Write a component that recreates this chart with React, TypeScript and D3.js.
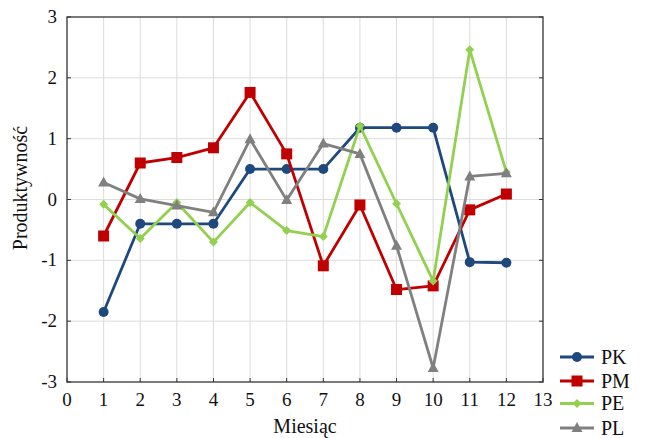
import React from "react";
import * as d3 from "d3";

const months = [1, 2, 3, 4, 5, 6, 7, 8, 9, 10, 11, 12];
const PK = [-1.85, -0.4, -0.4, -0.4, 0.5, 0.5, 0.5, 1.18, 1.18, 1.18, -1.03, -1.04];
const PM = [-0.6, 0.6, 0.69, 0.85, 1.76, 0.75, -1.09, -0.09, -1.48, -1.42, -0.17, 0.09];
const PE = [-0.08, -0.64, -0.05, -0.7, -0.05, -0.51, -0.61, 1.21, -0.07, -1.34, 2.46, 0.45];
const PL = [0.28, 0.01, -0.1, -0.21, 0.99, -0.01, 0.92, 0.75, -0.76, -2.77, 0.38, 0.43];
const xTicks = d3.range(0, 14);
const yTicks = [-3, -2, -1, 0, 1, 2, 3];

const seriesNames = ["PK", "PM", "PE", "PL"];
const seriesValues = [PK, PM, PE, PL];
const seriesColors = ["#1F497D", "#C00000", "#92D050", "#808080"];
const seriesMarkers = ["circle", "square", "diamond", "triangle"];

const W = 646, H = 438;
const L = 67, R = 543, T = 17, B = 382;
const FONT = '"Liberation Serif", "DejaVu Serif", serif';
const textStyle = { fontFamily: FONT };

function Marker({ type, x, y, color }: { type: string; x: number; y: number; color: string }) {
  if (type === "circle") return <circle cx={x} cy={y} r={5} fill={color} />;
  if (type === "square") return <rect x={x - 5.5} y={y - 5.5} width={11} height={11} fill={color} />;
  if (type === "diamond")
    return <path d={`M${x},${y - 4.5}L${x + 4.5},${y}L${x},${y + 4.5}L${x - 4.5},${y}Z`} fill={color} />;
  return <path d={`M${x},${y - 6}L${x + 5.5},${y + 4}L${x - 5.5},${y + 4}Z`} fill={color} />;
}

export default function App() {
  const x = d3.scaleLinear().domain([0, 13]).range([L, R]);
  const y = d3.scaleLinear().domain([-3, 3]).range([B, T]);
  const line = d3
    .line<number>()
    .x((_, i) => x(months[i]))
    .y((d) => y(d));

  const legendY = [357, 381, 403.5, 428];

  return (
    <svg
      width={W}
      height={H}
      style={{ position: "absolute", left: 0, top: 0, background: "#fff" }}
    >
      {xTicks.slice(1, 13).map((t) => (
        <line key={"gx" + t} x1={x(t)} x2={x(t)} y1={T} y2={B} stroke="#dcdcdc" strokeWidth={1} />
      ))}
      {yTicks.slice(1, 6).map((t) => (
        <line key={"gy" + t} x1={L} x2={R} y1={y(t)} y2={y(t)} stroke="#dcdcdc" strokeWidth={1} />
      ))}
      {xTicks.map((t) => (
        <line key={"tx" + t} x1={x(t)} x2={x(t)} y1={B} y2={B - 4} stroke="#333" strokeWidth={1} />
      ))}
      {yTicks.map((t) => (
        <g key={"ty" + t}>
          <line x1={L} x2={L + 4} y1={y(t)} y2={y(t)} stroke="#333" strokeWidth={1} />
          <line x1={R} x2={R - 4} y1={y(t)} y2={y(t)} stroke="#333" strokeWidth={1} />
        </g>
      ))}
      <rect x={L} y={T} width={R - L} height={B - T} fill="none" stroke="#333" strokeWidth={1.3} />

      {seriesValues.map((vals, si) => (
        <g key={seriesNames[si]}>
          <path d={line(vals) || ""} fill="none" stroke={seriesColors[si]} strokeWidth={2.8} strokeLinejoin="round" />
          {vals.map((v, i) => (
            <Marker key={i} type={seriesMarkers[si]} x={x(months[i])} y={y(v)} color={seriesColors[si]} />
          ))}
        </g>
      ))}

      {xTicks.map((t) => (
        <text key={"lx" + t} x={x(t)} y={406} textAnchor="middle" fontSize={19} fill="#111" style={textStyle}>
          {t}
        </text>
      ))}
      {yTicks.map((t) => (
        <text key={"ly" + t} x={57} y={y(t) + 6} textAnchor="end" fontSize={19} fill="#111" style={textStyle}>
          {t}
        </text>
      ))}

      <text x={305} y={433} textAnchor="middle" fontSize={20} fill="#111" style={textStyle}>
        Miesiąc
      </text>
      <text
        transform={`translate(27,${188}) rotate(-90)`}
        textAnchor="middle"
        fontSize={20}
        fill="#111"
        style={textStyle}
      >
        Produktywność
      </text>

      {seriesNames.map((n, i) => (
        <g key={"lg" + n}>
          <line x1={560} x2={594} y1={legendY[i]} y2={legendY[i]} stroke={seriesColors[i]} strokeWidth={2.8} />
          <Marker type={seriesMarkers[i]} x={577} y={legendY[i]} color={seriesColors[i]} />
          <text x={601} y={legendY[i] + 6.5} fontSize={20} fill="#111" style={textStyle}>
            {n}
          </text>
        </g>
      ))}
    </svg>
  );
}
